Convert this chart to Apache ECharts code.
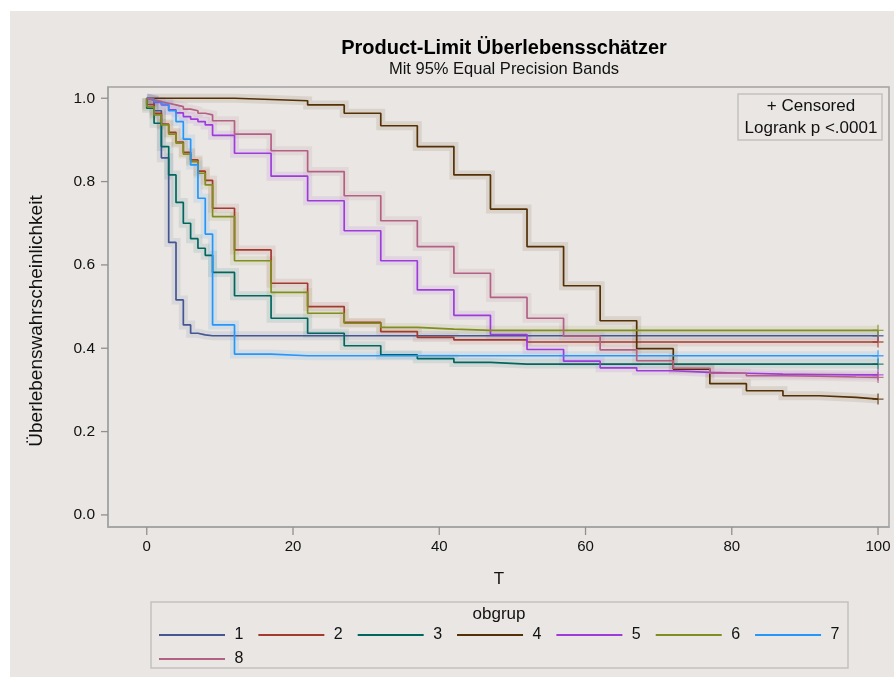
<!DOCTYPE html>
<html>
<head>
<meta charset="utf-8">
<script src="https://cdn.jsdelivr.net/npm/echarts@6/dist/echarts.min.js"></script>
<style>
  html, body { margin: 0; padding: 0; background: #ffffff; }
  #chart { width: 894px; height: 677px; }
</style>
</head>
<body>
<div id="chart"></div>
<script>
// ---------------- data ----------------
const GROUPS = ['1', '2', '3', '4', '5', '6', '7', '8'];
const TIMES = [0, 1, 2, 3, 4, 5, 6, 7, 8, 9, 12, 17, 22, 27, 32, 37, 42, 47, 52, 57, 62, 67, 72, 77, 82, 87, 92, 97];
const END_TIME = 100;
const START_SURV = 1.0;

const S1 = [0.996, 0.970, 0.857, 0.654, 0.516, 0.456, 0.436, 0.432, 0.430, 0.430, 0.430, 0.430, 0.430, 0.430, 0.430, 0.430, 0.430, 0.430, 0.430, 0.430, 0.430, 0.430, 0.430, 0.430, 0.430, 0.430, 0.430, 0.430];
const S2 = [0.985, 0.964, 0.938, 0.918, 0.895, 0.870, 0.852, 0.825, 0.803, 0.736, 0.636, 0.556, 0.500, 0.462, 0.440, 0.426, 0.420, 0.420, 0.415, 0.415, 0.415, 0.415, 0.415, 0.415, 0.415, 0.415, 0.415, 0.415];
const S3 = [0.976, 0.940, 0.884, 0.816, 0.750, 0.700, 0.663, 0.640, 0.623, 0.582, 0.526, 0.472, 0.436, 0.406, 0.384, 0.375, 0.366, 0.362, 0.362, 0.362, 0.362, 0.362, 0.362, 0.362, 0.362, 0.362, 0.362, 0.362];
const S4 = [1.000, 1.000, 1.000, 1.000, 1.000, 1.000, 1.000, 1.000, 1.000, 1.000, 0.997, 0.994, 0.984, 0.964, 0.934, 0.884, 0.816, 0.734, 0.644, 0.550, 0.466, 0.399, 0.350, 0.315, 0.298, 0.286, 0.282, 0.278];
const S5 = [0.996, 0.990, 0.984, 0.972, 0.965, 0.956, 0.950, 0.944, 0.936, 0.911, 0.868, 0.813, 0.754, 0.682, 0.610, 0.540, 0.479, 0.433, 0.397, 0.369, 0.353, 0.346, 0.342, 0.340, 0.338, 0.337, 0.336, 0.336];
const S6 = [0.980, 0.960, 0.936, 0.914, 0.892, 0.866, 0.848, 0.820, 0.792, 0.716, 0.610, 0.534, 0.484, 0.460, 0.450, 0.446, 0.443, 0.443, 0.443, 0.443, 0.443, 0.443, 0.443, 0.443, 0.443, 0.443, 0.443, 0.443];
const S7 = [0.998, 0.992, 0.986, 0.970, 0.944, 0.902, 0.840, 0.760, 0.674, 0.456, 0.386, 0.382, 0.382, 0.382, 0.382, 0.382, 0.382, 0.382, 0.382, 0.382, 0.382, 0.382, 0.382, 0.382, 0.382, 0.382, 0.382, 0.382];
const S8 = [0.996, 0.992, 0.988, 0.984, 0.980, 0.974, 0.970, 0.964, 0.960, 0.946, 0.914, 0.874, 0.824, 0.766, 0.706, 0.644, 0.580, 0.522, 0.472, 0.429, 0.396, 0.370, 0.352, 0.340, 0.334, 0.333, 0.331, 0.330];
const SURV = [S1, S2, S3, S4, S5, S6, S7, S8];

const X_TICKS = [0, 20, 40, 60, 80, 100];
const Y_TICKS = [0, 0.2, 0.4, 0.6, 0.8, 1.0];

const TITLE = 'Product-Limit Überlebensschätzer';
const SUBTITLE = 'Mit 95% Equal Precision Bands';
const X_TITLE = 'T';
const Y_TITLE = 'Überlebenswahrscheinlichkeit';
const LEGEND_TITLE = 'obgrup';
const INSET_LINES = ['+ Censored', 'Logrank p <.0001'];

// ---------------- style ----------------
const COLORS = ['#445694', '#A23A2E', '#01665E', '#543005', '#9D3CDB', '#7F8E1F', '#2597FA', '#B26084'];
const FONT = 'Liberation Sans, Arial, sans-serif';
const BG = '#e9e6e3';
const AXIS_GRAY = '#a3a3a3';
const TICK_GRAY = '#909090';
const TEXT = '#111111';
const PLUS = 'path://M4.4,0h1.2v4.4h4.4v1.2h-4.4v4.4h-1.2v-4.4h-4.4v-1.2h4.4z';
const X_RANGE = [-5.3, 101.5];
const Y_RANGE = [-0.029, 1.027];

function curve(vals) {
  const pts = [[TIMES[0], START_SURV]];
  vals.forEach((v, i) => pts.push([TIMES[i], v]));
  pts.push([END_TIME, vals[vals.length - 1]]);
  return pts;
}

const series = [];
GROUPS.forEach((g, i) => {
  const data = curve(SURV[i]);
  series.push({
    name: g + ' band', type: 'line', step: 'end', data: data,
    symbol: 'none', silent: true, z: 1,
    lineStyle: { color: COLORS[i], width: 9, opacity: 0.1, cap: 'butt', join: 'miter' }
  });
});
GROUPS.forEach((g, i) => {
  const data = curve(SURV[i]);
  series.push({
    name: g, type: 'line', step: 'end', data: data,
    symbol: 'none', z: 3, color: COLORS[i],
    lineStyle: { color: COLORS[i], width: 1.7 }
  });
  series.push({
    name: g + ' censored', type: 'scatter', z: 4, silent: true,
    data: [[END_TIME, SURV[i][SURV[i].length - 1]]],
    symbol: PLUS, symbolSize: 11,
    itemStyle: { color: COLORS[i] }
  });
});

// axis tick marks drawn outside the plot frame through the axes' own scales
series.push({
  name: 'xticks', type: 'custom', silent: true, clip: false, z: 5,
  data: X_TICKS.map((t) => [t, Y_RANGE[0]]),
  renderItem: (params, api) => {
    const p = api.coord([api.value(0), api.value(1)]);
    return { type: 'line', shape: { x1: p[0], y1: p[1], x2: p[0], y2: p[1] + 8 },
             style: { stroke: TICK_GRAY, lineWidth: 1.3 } };
  }
});
series.push({
  name: 'yticks', type: 'custom', silent: true, clip: false, z: 5,
  data: Y_TICKS.map((v) => [X_RANGE[0], v]),
  renderItem: (params, api) => {
    const p = api.coord([api.value(0), api.value(1)]);
    return { type: 'line', shape: { x1: p[0] - 7, y1: p[1], x2: p[0], y2: p[1] },
             style: { stroke: TICK_GRAY, lineWidth: 1.3 } };
  }
});

const chart = echarts.init(document.getElementById('chart'), null, { renderer: 'canvas' });

const legendCommon = {
  orient: 'horizontal', icon: 'rect', itemWidth: 66, itemHeight: 2, itemGap: 15, padding: 0,
  textStyle: { fontFamily: FONT, fontSize: 16, color: TEXT },
  formatter: (n) => ' ' + n,
  selectedMode: false
};

chart.setOption({
  backgroundColor: '#ffffff',
  animation: false,
  color: COLORS,
  title: {
    text: TITLE, subtext: SUBTITLE,
    left: 499, top: 33, textAlign: 'center', itemGap: 3,
    textStyle: { fontFamily: FONT, fontWeight: 'bold', fontSize: 20, color: '#000' },
    subtextStyle: { fontFamily: FONT, fontSize: 16.5, color: TEXT }
  },
  grid: {
    left: 108, right: 5, top: 87, bottom: 150,
    show: true, backgroundColor: BG, borderColor: AXIS_GRAY, borderWidth: 1.5
  },
  xAxis: {
    type: 'value', min: X_RANGE[0], max: X_RANGE[1],
    axisLine: { show: true, onZero: false, lineStyle: { color: AXIS_GRAY, width: 1.5 } },
    axisTick: { show: false },
    axisLabel: { customValues: X_TICKS, margin: 12, fontFamily: FONT, fontSize: 15, color: TEXT },
    splitLine: { show: false }
  },
  yAxis: {
    type: 'value', min: Y_RANGE[0], max: Y_RANGE[1],
    axisLine: { show: true, onZero: false, lineStyle: { color: AXIS_GRAY, width: 1.5 } },
    axisTick: { show: false },
    axisLabel: { customValues: Y_TICKS, margin: 13, fontFamily: FONT, fontSize: 15.5, color: TEXT,
                 formatter: (v) => v.toFixed(1) },
    splitLine: { show: false }
  },
  legend: [
    Object.assign({}, legendCommon, { data: GROUPS.slice(0, 7), left: 159, top: 627 }),
    Object.assign({}, legendCommon, { data: GROUPS.slice(7), left: 159, top: 651 })
  ],
  graphic: [
    { type: 'rect', z: -100, silent: true, shape: { x: 10, y: 11, width: 884, height: 666 }, style: { fill: BG } },
    { type: 'text', silent: true, x: 37, y: 321, rotation: Math.PI / 2,
      style: { text: Y_TITLE, fontFamily: FONT, fontSize: 19, fill: TEXT, align: 'center', verticalAlign: 'middle' } },
    { type: 'text', silent: true, x: 499, y: 579,
      style: { text: X_TITLE, fontFamily: FONT, fontSize: 17, fill: TEXT, align: 'center', verticalAlign: 'middle' } },
    { type: 'rect', silent: true, z: 10, shape: { x: 738, y: 94, width: 144, height: 46 },
      style: { fill: BG, stroke: '#c4c2bf', lineWidth: 1.5 } },
    { type: 'text', silent: true, z: 11, x: 811, y: 106,
      style: { text: INSET_LINES[0], fontFamily: FONT, fontSize: 17, fill: TEXT, align: 'center', verticalAlign: 'middle' } },
    { type: 'text', silent: true, z: 11, x: 811, y: 128,
      style: { text: INSET_LINES[1], fontFamily: FONT, fontSize: 17, fill: TEXT, align: 'center', verticalAlign: 'middle' } },
    { type: 'rect', silent: true, shape: { x: 151, y: 602, width: 697, height: 66 },
      style: { fill: 'none', stroke: '#c4c2bf', lineWidth: 1.5 } },
    { type: 'text', silent: true, x: 499, y: 614,
      style: { text: LEGEND_TITLE, fontFamily: FONT, fontSize: 17, fill: TEXT, align: 'center', verticalAlign: 'middle' } }
  ],
  series: series
});
</script>
</body>
</html>
